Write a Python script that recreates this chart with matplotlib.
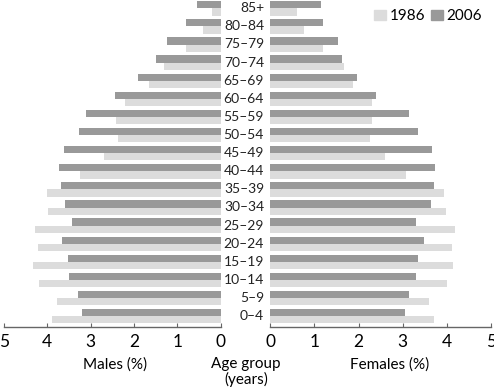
import numpy as np
import matplotlib
matplotlib.use("Agg")
import matplotlib.pyplot as plt
from matplotlib.patches import Patch

plt.rcParams['font.family'] = ['Lato', 'DejaVu Sans']

ages = ['0–4', '5–9', '10–14', '15–19', '20–24', '25–29', '30–34', '35–39',
        '40–44', '45–49', '50–54', '55–59', '60–64', '65–69', '70–74',
        '75–79', '80–84', '85+']
males_1986 = [3.89, 3.77, 4.20, 4.32, 4.22, 4.28, 3.99, 4.01, 3.25, 2.70,
              2.36, 2.41, 2.20, 1.65, 1.32, 0.81, 0.41, 0.21]
males_2006 = [3.20, 3.30, 3.50, 3.52, 3.66, 3.44, 3.59, 3.68, 3.72, 3.62,
              3.27, 3.11, 2.44, 1.90, 1.50, 1.24, 0.81, 0.54]
females_1986 = [3.70, 3.59, 4.01, 4.13, 4.11, 4.19, 3.97, 3.94, 3.08, 2.59,
                2.27, 2.31, 2.31, 1.88, 1.67, 1.19, 0.77, 0.61]
females_2006 = [3.05, 3.14, 3.31, 3.34, 3.48, 3.31, 3.64, 3.71, 3.73, 3.67,
                3.34, 3.14, 2.40, 1.96, 1.63, 1.53, 1.20, 1.16]

light = '#dcdcdc'
dark = '#999999'
h = 0.40
y = np.arange(len(ages))

fig = plt.figure(figsize=(4.94, 3.88), dpi=100)
axL = fig.add_axes([0.008, 0.158, 0.439, 0.842])
axR = fig.add_axes([0.547, 0.158, 0.447, 0.842])

for ax, v86, v06 in [(axL, males_1986, males_2006), (axR, females_1986, females_2006)]:
    ax.barh(y - h / 2, v86, height=h, color=light)
    ax.barh(y + h / 2, v06, height=h, color=dark)
    ax.set_xlim(0, 5)
    ax.set_ylim(-0.58, 17.46)
    for s in ['top', 'right', 'left']:
        ax.spines[s].set_visible(False)
    ax.spines['bottom'].set_color('#666666')
    ax.spines['bottom'].set_linewidth(1.0)
    ax.set_yticks([])
    ax.set_xticks(range(6))
    ax.tick_params(axis='x', direction='in', length=3, color='#666666',
                   labelsize=12.5, pad=5)

axL.invert_xaxis()

for i, lab in enumerate(ages):
    fig.text(264 / 494, 1 - (316 - i * 18.1) / 388, lab, ha='right', va='center',
             fontsize=10, color='#222222')

fig.text(115 / 494, 1 - 365 / 388, 'Males (%)', ha='center', va='center', fontsize=11)
fig.text(390 / 494, 1 - 365 / 388, 'Females (%)', ha='center', va='center', fontsize=11)
fig.text(246 / 494, 1 - 372 / 388, 'Age group\n(years)', ha='center', va='center',
         fontsize=11, linespacing=1.05)

axR.legend(handles=[Patch(color=light, label='1986'), Patch(color=dark, label='2006')],
           loc='upper right', bbox_to_anchor=(1.0, 1.0), ncol=2, frameon=False,
           fontsize=11, handlelength=0.8, handleheight=0.6, handletextpad=0.2,
           columnspacing=0.4, borderaxespad=0.2)

fig.savefig('out.png', dpi=100)
